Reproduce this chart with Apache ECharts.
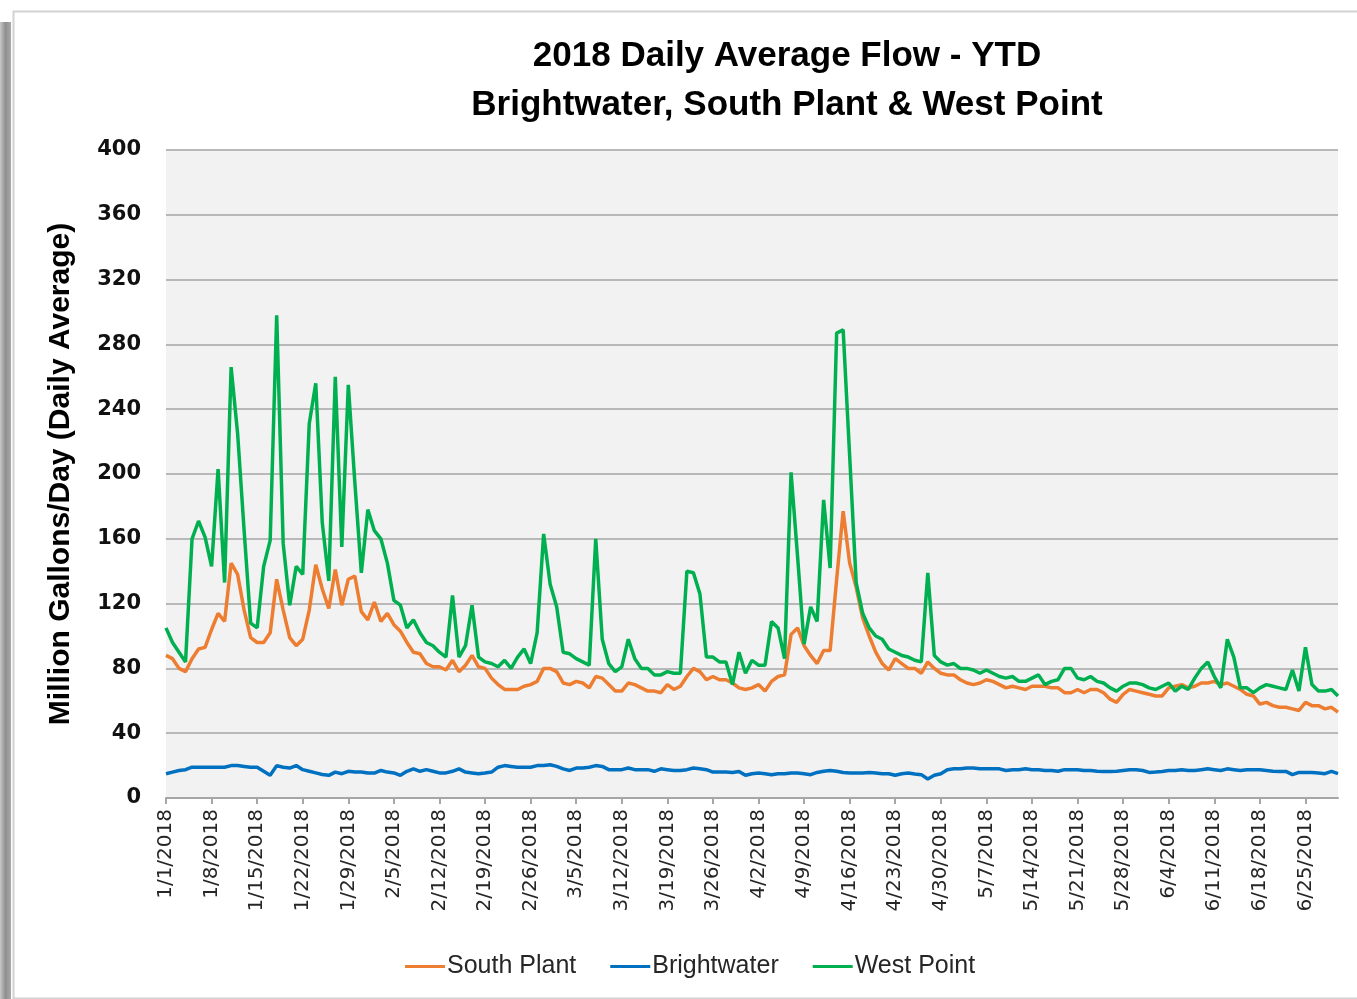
<!DOCTYPE html>
<html>
<head>
<meta charset="utf-8">
<title>2018 Daily Average Flow - YTD</title>
<script src="https://cdn.jsdelivr.net/npm/echarts@6/dist/echarts.min.js"></script>
<style>
  html, body { margin: 0; padding: 0; background: #fff; }
  #chart { width: 1357px; height: 999px; }
</style>
</head>
<body>
<div id="chart"></div>
<script>
// ===== Data (1/1/2018 - 6/30/2018, one value per day, MGD) =====

const startDate = [2018, 1, 1];

const southPlant = [
  88, 86, 80, 78, 86, 92, 93, 104, 114, 109,
  145, 138, 116, 99, 96, 96, 102, 135, 116, 99,
  94, 98, 116, 144, 129, 117, 141, 119, 135, 137,
  115, 110, 121, 109, 114, 107, 103, 96, 90, 89,
  83, 81, 81, 79, 85, 78, 82, 88, 81, 80,
  74, 70, 67, 67, 67, 69, 70, 72, 80, 80,
  78, 71, 70, 72, 71, 68, 75, 74, 70, 66,
  66, 71, 70, 68, 66, 66, 65, 70, 67, 69,
  75, 80, 78, 73, 75, 73, 73, 71, 68, 67,
  68, 70, 66, 72, 75, 76, 101, 105, 94, 88,
  83, 91, 91, 135, 177, 145, 130, 111, 100, 90,
  83, 79, 86, 83, 80, 80, 77, 84, 80, 77,
  76, 76, 73, 71, 70, 71, 73, 72, 70, 68,
  69, 68, 67, 69, 69, 69, 68, 68, 65, 65,
  67, 65, 67, 67, 65, 61, 59, 64, 67, 66,
  65, 64, 63, 63, 68, 69, 70, 68, 69, 71,
  71, 72, 70, 71, 69, 67, 64, 63, 58, 59,
  57, 56, 56, 55, 54, 59, 57, 57, 55, 56,
  53
];

const brightwater = [
  15, 16, 17, 17.5, 19, 19, 19, 19, 19, 19,
  20, 20, 19.5, 19, 19, 16.5, 14, 20, 19, 18.5,
  20, 17.5, 16.5, 15.5, 14.5, 14, 16, 15, 16.5, 16,
  16, 15.4, 15.4, 17, 16, 15.5, 14, 16.5, 18, 16.5,
  17.5, 16.5, 15.5, 15.5, 16.5, 18, 16, 15.5, 15, 15.4,
  16, 19, 20, 19.5, 19, 19, 19, 20, 20, 20.5,
  19.5, 18, 17, 18.5, 18.5, 19, 20, 19.5, 17.5, 17.5,
  17.5, 18.5, 17.5, 17.5, 17.5, 16.5, 18, 17.5, 17, 17,
  17.5, 18.5, 18, 17.5, 16, 16, 16, 15.8, 16.4, 14,
  15, 15.4, 15, 14.4, 15, 15, 15.4, 15.4, 15, 14.4,
  15.8, 16.5, 17, 16.5, 15.8, 15.5, 15.4, 15.4, 15.8, 15.5,
  15, 15, 14, 15, 15.4, 14.8, 14.4, 11.7, 14, 15,
  17.5, 18, 18, 18.5, 18.5, 18, 18, 18, 18, 17,
  17.5, 17.5, 18, 17.5, 17.5, 17, 17, 16.5, 17.5, 17.5,
  17.5, 17, 17, 16.5, 16.4, 16.4, 16.5, 17, 17.5, 17.5,
  17, 15.8, 16, 16.4, 17, 17, 17.5, 17, 17, 17.5,
  18, 17.5, 17, 18, 17.5, 17, 17.5, 17.5, 17.5, 17,
  16.5, 16.4, 16.4, 14.4, 15.8, 15.8, 15.8, 15.5, 15, 16.4,
  15
];

const westPoint = [
  105, 96, 90, 84, 160, 171, 161, 143, 203, 133,
  266, 225, 165, 108, 105, 143, 159, 298, 157, 119,
  143, 138, 231, 256, 170, 134, 260, 155, 255, 195,
  139, 178, 165, 160, 145, 122, 119, 105, 110, 102,
  96, 94, 90, 87, 125, 87, 94, 119, 87, 84,
  83, 81, 85, 80, 87, 92, 83, 102, 163, 132,
  118, 90, 89, 86, 84, 82, 160, 98, 83, 78,
  81, 98, 86, 80, 80, 76, 76, 78, 77, 77,
  140, 139, 126, 87, 87, 84, 84, 70, 90, 77,
  85, 82, 82, 109, 105, 86, 201, 149, 95, 118,
  109, 184, 142, 287, 289, 211, 133, 114, 105, 100,
  98, 92, 90, 88, 87, 85, 84, 139, 88, 84,
  82, 83, 80, 80, 79, 77, 79, 77, 75, 74,
  75, 72, 72, 74, 76, 70, 72, 73, 80, 80,
  74, 73, 75, 72, 71, 68, 66, 69, 71, 71,
  70, 68, 67, 69, 71, 66, 69, 67, 74, 80,
  84, 75, 68, 98, 87, 68, 68, 65, 68, 70,
  69, 68, 67, 79, 66, 93, 70, 66, 66, 67,
  63
];

const seriesNames = ['South Plant', 'Brightwater', 'West Point'];
const seriesColors = ['#ED7D31', '#0070C0', '#00B050'];

const yTicks = { min: 0, max: 400, interval: 40 };

const titleLines = [
  '2018 Daily Average Flow - YTD',
  'Brightwater, South Plant & West Point'
];
const yAxisTitle = 'Million Gallons/Day (Daily Average)';

// ===== Build =====

function buildDates(count) {
  const out = [];
  const d = new Date(startDate[0], startDate[1] - 1, startDate[2]);
  for (let i = 0; i < count; i++) {
    out.push((d.getMonth() + 1) + '/' + d.getDate() + '/' + d.getFullYear());
    d.setDate(d.getDate() + 1);
  }
  return out;
}

function initChart() {
  const chart = echarts.init(document.getElementById('chart'));
  const dates = buildDates(southPlant.length);
  const values = [southPlant, brightwater, westPoint];
  const titleFont = 'bold 35px "Liberation Sans", Arial, sans-serif';

  const option = {
    backgroundColor: '#ffffff',
    animation: false,
    graphic: [
      // frame + drop shadow of the original picture
      { type: 'rect', left: 0, top: 22, shape: { width: 11, height: 977 },
        style: { fill: new echarts.graphic.LinearGradient(0, 0, 1, 0, [
          { offset: 0, color: '#c8c8c8' }, { offset: 0.5, color: '#8f8f8f' }, { offset: 1, color: '#a8a8a8' }
        ]) } },
      { type: 'rect', left: 11, top: 9, shape: { width: 1360, height: 987 },
        style: { fill: 'none', stroke: '#d2d2d2', lineWidth: 2 } },
      { type: 'text', x: 787, y: 56,
        style: { text: titleLines[0], align: 'center', verticalAlign: 'middle', font: titleFont, fill: '#000' } },
      { type: 'text', x: 787, y: 105,
        style: { text: titleLines[1], align: 'center', verticalAlign: 'middle', font: titleFont, fill: '#000' } }
    ],
    legend: {
      data: seriesNames,
      left: 400,
      top: 949,
      icon: 'rect',
      itemWidth: 40,
      itemHeight: 3,
      itemGap: 34,
      textStyle: { fontFamily: '"Liberation Sans", Arial, sans-serif', fontSize: 25, color: '#262626', padding: [0, 0, 0, -3] }
    },
    grid: {
      left: 166,
      right: 19,
      top: 150,
      bottom: 201,
      show: true,
      backgroundColor: '#f2f2f2',
      borderWidth: 0
    },
    xAxis: {
      type: 'category',
      data: dates,
      boundaryGap: false,
      axisLine: { lineStyle: { color: '#a6a6a6', width: 2 } },
      axisTick: { show: true, interval: 6, length: 6, lineStyle: { color: '#a6a6a6', width: 2 } },
      axisLabel: {
        interval: 6,
        rotate: 90,
        margin: 11,
        fontFamily: '"DejaVu Sans", sans-serif',
        fontSize: 20,
        color: '#262626'
      },
      splitLine: { show: false }
    },
    yAxis: {
      type: 'value',
      min: yTicks.min,
      max: yTicks.max,
      interval: yTicks.interval,
      name: yAxisTitle,
      nameLocation: 'middle',
      nameRotate: 90,
      nameGap: 90,
      nameTextStyle: { fontFamily: '"Liberation Sans", Arial, sans-serif', fontWeight: 'bold', fontSize: 30, color: '#000' },
      axisLine: { show: false },
      axisTick: { show: false },
      axisLabel: {
        margin: 25,
        fontFamily: '"DejaVu Sans", sans-serif',
        fontWeight: 'bold',
        fontSize: 21,
        color: '#111'
      },
      splitLine: { lineStyle: { color: '#b8b8b8', width: 2 } }
    },
    series: seriesNames.map((name, i) => ({
      name: name,
      type: 'line',
      data: values[i],
      symbol: 'none',
      lineStyle: { color: seriesColors[i], width: 3.5 },
      itemStyle: { color: seriesColors[i] },
      z: 2 + i
    }))
  };

  chart.setOption(option);
  window.addEventListener('resize', () => chart.resize());
}

initChart();
</script>
</body>
</html>
